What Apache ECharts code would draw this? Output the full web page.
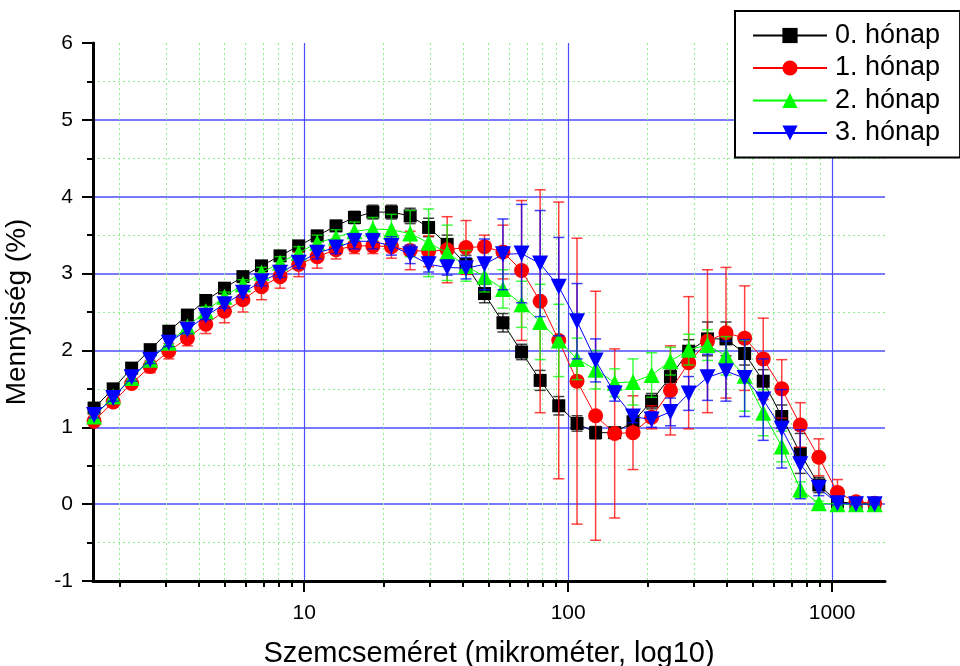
<!DOCTYPE html>
<html>
<head>
<meta charset="utf-8">
<script src="https://cdn.jsdelivr.net/npm/echarts@6/dist/echarts.min.js"></script>
<style>
html,body{margin:0;padding:0;background:#fff;}
#chart{width:960px;height:666px;}
</style>
</head>
<body>
<div id="chart"></div>
<script>
// particle size (micrometre)
var sizes = [1.60,1.89,2.22,2.61,3.07,3.61,4.24,4.99,5.86,6.89,
  8.10,9.53,11.2,13.2,15.5,18.2,21.4,25.2,29.6,34.8,
  41.0,48.2,56.6,66.6,78.3,92.1,108,127,150,176,
  207,244,286,337,396,466,548,644,757,890,
  1047,1231,1448];

var month0 = [1.25,1.50,1.77,2.01,2.25,2.46,2.65,2.81,2.96,3.10,
  3.23,3.36,3.49,3.62,3.73,3.80,3.80,3.75,3.60,3.38,
  3.12,2.74,2.36,1.98,1.61,1.28,1.05,0.93,0.93,1.07,
  1.34,1.66,1.99,2.15,2.15,1.96,1.60,1.14,0.66,0.25,
  0.03,0.01,0.00];
var month0Err = [0.04,0.04,0.04,0.05,0.05,0.05,0.05,0.05,0.05,0.06,
  0.06,0.06,0.07,0.07,0.08,0.09,0.09,0.10,0.12,0.12,
  0.12,0.12,0.12,0.10,0.13,0.12,0.10,0.08,0.05,0.08,
  0.10,0.10,0.15,0.22,0.22,0.15,0.15,0.15,0.26,0.10,
  0.03,0.02,0.02];

var month1 = [1.08,1.33,1.57,1.79,1.99,2.16,2.34,2.51,2.66,2.83,
  2.96,3.12,3.22,3.31,3.36,3.36,3.35,3.30,3.29,3.31,
  3.34,3.35,3.28,3.04,2.64,2.13,1.60,1.15,0.92,0.93,
  1.13,1.48,1.84,2.12,2.23,2.16,1.89,1.50,1.03,0.61,
  0.15,0.03,0.01];
var month1Err = [0.05,0.05,0.06,0.08,0.10,0.10,0.12,0.15,0.16,0.17,
  0.15,0.16,0.15,0.12,0.10,0.10,0.15,0.25,0.20,0.43,
  0.35,0.15,0.35,0.91,1.45,1.80,1.86,1.62,1.10,0.48,
  0.15,0.58,0.86,0.93,0.85,0.68,0.53,0.38,0.29,0.24,
  0.17,0.03,0.02];

var month2 = [1.14,1.40,1.64,1.88,2.10,2.31,2.51,2.70,2.86,3.01,
  3.14,3.27,3.40,3.47,3.55,3.58,3.57,3.52,3.40,3.27,
  3.10,2.96,2.80,2.60,2.37,2.13,1.89,1.75,1.58,1.59,
  1.68,1.86,2.01,2.07,1.93,1.67,1.19,0.75,0.19,0.01,
  0.00,0.00,0.00];
var month2Err = [0.04,0.04,0.05,0.05,0.05,0.05,0.06,0.06,0.06,0.07,
  0.08,0.08,0.10,0.10,0.12,0.15,0.20,0.30,0.44,0.36,
  0.20,0.20,0.25,0.30,0.49,0.47,0.27,0.25,0.18,0.30,
  0.29,0.18,0.20,0.20,0.25,0.46,0.30,0.20,0.10,0.03,
  0.01,0.01,0.01];

var month3 = [1.16,1.38,1.65,1.88,2.10,2.27,2.45,2.60,2.75,2.90,
  3.01,3.14,3.27,3.34,3.42,3.42,3.36,3.25,3.12,3.08,
  3.07,3.12,3.25,3.26,3.13,2.83,2.38,1.87,1.44,1.14,
  1.10,1.20,1.44,1.65,1.73,1.64,1.36,0.98,0.52,0.21,
  0.01,0.00,0.00];
var month3Err = [0.04,0.04,0.05,0.05,0.05,0.05,0.05,0.05,0.06,0.06,
  0.06,0.07,0.08,0.08,0.10,0.10,0.12,0.12,0.10,0.10,
  0.14,0.33,0.46,0.64,0.69,0.64,0.49,0.28,0.10,0.08,
  0.10,0.18,0.22,0.30,0.39,0.50,0.53,0.51,0.45,0.10,
  0.02,0.01,0.01];

var seriesNames = ['0. hónap','1. hónap','2. hónap','3. hónap'];
var xMajorTicks = [10, 100, 1000];
var xMinorTicks = [2,3,4,5,6,7,8,9,20,30,40,50,60,70,80,90,200,300,400,500,600,700,800,900];
var xRange = [1.585, 1585];
var yRange = [-1, 6];

var FONT = 'Liberation Sans, Arial, sans-serif';
var lg = function(v){ return Math.log10(v); };

var colors = ['#000000', '#ff0000', '#00ff00', '#0000ff'];
var symbols = ['rect', 'circle', 'triangle', 'triangle'];
var symbolSizes = [13, 15, 16, 16];
var rotates = [0, 0, 0, 180];
var values = [month0, month1, month2, month3];
var errs = [month0Err, month1Err, month2Err, month3Err];

var series = [];
for (var s = 0; s < 4; s++) {
  (function(s){
    var errData = sizes.map(function(d, i){ return [lg(d), values[s][i], errs[s][i]]; });
    series.push({
      type: 'custom',
      name: seriesNames[s] + ' err',
      xAxisIndex: 0, yAxisIndex: 0,
      z: 2 + s,
      silent: true,
      data: errData,
      renderItem: function(params, api){
        var x = api.value(0), y = api.value(1), e = api.value(2);
        var top = api.coord([x, y + e]);
        var bot = api.coord([x, y - e]);
        var hw = 5.5;
        var st = {stroke: colors[s], lineWidth: 1.5, opacity: 0.75};
        return {type: 'group', children: [
          {type: 'line', shape: {x1: top[0], y1: top[1], x2: bot[0], y2: bot[1]}, style: st},
          {type: 'line', shape: {x1: top[0]-hw, y1: top[1], x2: top[0]+hw, y2: top[1]}, style: st},
          {type: 'line', shape: {x1: bot[0]-hw, y1: bot[1], x2: bot[0]+hw, y2: bot[1]}, style: st}
        ]};
      }
    });
    series.push({
      type: 'line',
      name: seriesNames[s],
      xAxisIndex: 0, yAxisIndex: 0,
      z: 2 + s,
      data: sizes.map(function(d, i){ return [lg(d), values[s][i]]; }),
      symbol: symbols[s],
      symbolSize: symbolSizes[s],
      symbolRotate: rotates[s],
      showAllSymbol: true,
      lineStyle: {color: colors[s], width: 1},
      itemStyle: {color: colors[s], opacity: 1},
      emphasis: {disabled: true},
      animation: false
    });
  })(s);
}

var chart = echarts.init(document.getElementById('chart'), null, {renderer: 'canvas'});
chart.setOption({
  animation: false,
  backgroundColor: '#ffffff',
  grid: {left: 93, right: 75, top: 43, bottom: 85, containLabel: false, outerBoundsMode: 'none'},
  legend: {
    data: seriesNames.map(function(n, i){ return {name: n, itemStyle: {color: colors[i]}}; }),
    orient: 'vertical',
    left: 735, top: 11,
    padding: [11, 20, 11, 17],
    itemGap: 5.5,
    itemWidth: 74,
    itemHeight: 19,
    backgroundColor: '#ffffff',
    borderColor: '#000000',
    borderWidth: 2,
    borderRadius: 0,
    textStyle: {fontFamily: FONT, fontSize: 27, color: '#000', padding: [0, 0, 0, 3]},
    z: 10
  },
  xAxis: [
    {
      type: 'value',
      min: lg(xRange[0]), max: lg(xRange[1]),
      position: 'bottom',
      name: 'Szemcseméret (mikrométer, log10)',
      nameLocation: 'middle',
      nameGap: 58,
      nameTextStyle: {fontFamily: FONT, fontSize: 29, color: '#000'},
      axisLine: {show: true, onZero: false, lineStyle: {color: '#000', width: 3}},
      axisTick: {show: true, length: 11, lineStyle: {color: '#000', width: 2}, customValues: xMajorTicks.map(lg)},
      axisLabel: {
        show: true, margin: 22, fontFamily: FONT, fontSize: 21, color: '#000',
        customValues: xMajorTicks.map(lg),
        formatter: function(v){ return String(Math.round(Math.pow(10, v))); }
      },
      splitLine: {show: true, lineStyle: {color: '#4d4dff', width: 1.2}}
    },
    {
      type: 'value',
      min: lg(xRange[0]), max: lg(xRange[1]),
      position: 'bottom',
      axisLine: {show: false, onZero: false},
      axisTick: {show: true, length: 6, lineStyle: {color: '#000', width: 2}, customValues: xMinorTicks.map(lg)},
      axisLabel: {show: false, customValues: xMinorTicks.map(lg)},
      splitLine: {show: true, lineStyle: {color: '#8fef8f', width: 1, type: [2, 3]}}
    }
  ],
  yAxis: {
    type: 'value',
    min: yRange[0], max: yRange[1], interval: 1,
    name: 'Mennyiség (%)',
    nameLocation: 'middle',
    nameGap: 62,
    nameRotate: 90,
    nameTextStyle: {fontFamily: FONT, fontSize: 28, color: '#000'},
    axisLine: {show: true, onZero: false, lineStyle: {color: '#000', width: 3}},
    axisTick: {show: true, length: 11, lineStyle: {color: '#000', width: 2}},
    minorTick: {show: true, splitNumber: 2, length: 6, lineStyle: {color: '#000', width: 2}},
    axisLabel: {margin: 20, fontFamily: FONT, fontSize: 21, color: '#000'},
    splitLine: {show: true, showMaxLine: false, lineStyle: {color: '#4d4dff', width: 1.5}},
    minorSplitLine: {show: true, lineStyle: {color: '#8fef8f', width: 1, type: [2, 3]}}
  },
  series: series
});
</script>
</body>
</html>
